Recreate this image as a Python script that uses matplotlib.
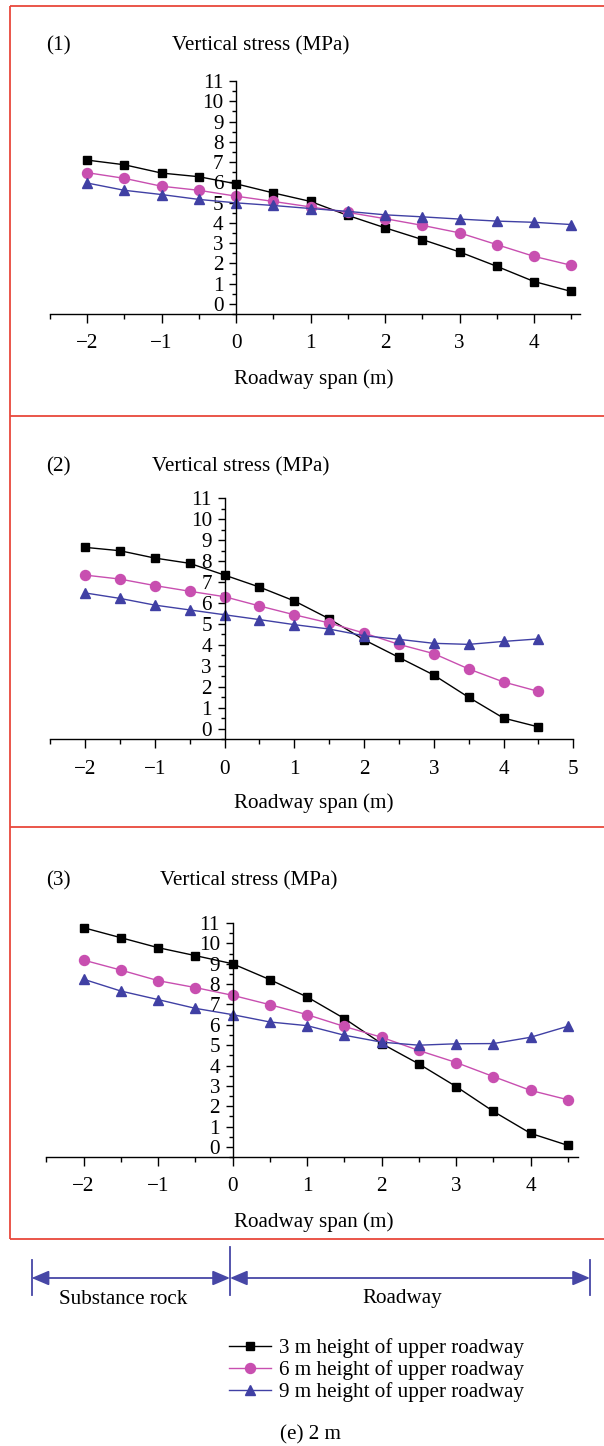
import matplotlib
matplotlib.use('Agg')
import matplotlib.pyplot as plt
from matplotlib.ticker import MultipleLocator

plt.rcParams['font.family'] = ['Liberation Serif', 'DejaVu Serif']

# ---------------- data ----------------
span = [-2, -1.5, -1, -0.5, 0, 0.5, 1, 1.5, 2, 2.5, 3, 3.5, 4, 4.5]

p1_3m = [7.10, 6.87, 6.46, 6.28, 5.93, 5.48, 5.06, 4.37, 3.76, 3.18, 2.57, 1.86, 1.11, 0.62]
p1_6m = [6.48, 6.20, 5.81, 5.61, 5.32, 5.06, 4.79, 4.52, 4.21, 3.88, 3.51, 2.93, 2.35, 1.91]
p1_9m = [5.97, 5.61, 5.40, 5.16, 4.99, 4.86, 4.71, 4.57, 4.40, 4.30, 4.19, 4.09, 4.03, 3.92]

p2_3m = [8.65, 8.49, 8.14, 7.89, 7.33, 6.76, 6.10, 5.25, 4.25, 3.41, 2.57, 1.51, 0.52, 0.10]
p2_6m = [7.33, 7.14, 6.83, 6.56, 6.30, 5.86, 5.44, 5.05, 4.57, 4.03, 3.59, 2.86, 2.24, 1.79]
p2_9m = [6.48, 6.22, 5.90, 5.67, 5.44, 5.21, 4.97, 4.76, 4.44, 4.27, 4.08, 4.03, 4.17, 4.29]

p3_3m = [10.77, 10.28, 9.79, 9.40, 9.00, 8.22, 7.37, 6.31, 5.08, 4.08, 2.97, 1.75, 0.67, 0.08]
p3_6m = [9.18, 8.69, 8.17, 7.83, 7.45, 6.99, 6.50, 5.92, 5.39, 4.74, 4.15, 3.46, 2.78, 2.32]
p3_9m = [8.24, 7.66, 7.24, 6.81, 6.50, 6.14, 5.96, 5.49, 5.15, 5.00, 5.07, 5.08, 5.39, 5.93]

series_labels = ['3 m height of upper roadway',
                 '6 m height of upper roadway',
                 '9 m height of upper roadway']
panel_tags = ['(1)', '(2)', '(3)']
ylabel_text = 'Vertical stress (MPa)'
xlabel_text = 'Roadway span (m)'
region_labels = ['Substance rock', 'Roadway']
caption = '(e) 2 m'

# ---------------- styles ----------------
W, H = 604, 1446
RED = '#e8483c'
BLACK = '#000000'
PINK = '#c84fb0'
BLUE = '#4040a4'
styles = [dict(color=BLACK, marker='s', ms=6.3, mfc=BLACK, mec=BLACK),
          dict(color=PINK, marker='o', ms=7.2, mfc=PINK, mec=PINK),
          dict(color=BLUE, marker='^', ms=7.2, mfc=BLUE, mec=BLUE)]
FS = 15.2
TFS = 15.2

fig = plt.figure(figsize=(W / 100, H / 100), dpi=100)

# overlay axes in pixel coordinates
ov = fig.add_axes([0, 0, 1, 1])
ov.set_xlim(0, W)
ov.set_ylim(H, 0)
ov.axis('off')


def px_axes(x0px, xpu, xlim, y0px, ypu, ylim):
    left = x0px + xlim[0] * xpu
    right = x0px + xlim[1] * xpu
    bot = y0px - ylim[0] * ypu
    top = y0px - ylim[1] * ypu
    return fig.add_axes([left / W, 1 - bot / H, (right - left) / W, (bot - top) / H])


panels = [
    dict(x0=236.0, xpu=74.5, xmax=4.62, y0=304.0, ypu=20.27, xtmax=4, ty=46, tcx=261, xly=379,
         data=(p1_3m, p1_6m, p1_9m)),
    dict(x0=224.5, xpu=69.75, xmax=5.0, y0=729.0, ypu=21.0, xtmax=5, ty=467, tcx=241, xly=803,
         data=(p2_3m, p2_6m, p2_9m)),
    dict(x0=232.6, xpu=74.5, xmax=4.63, y0=1147.0, ypu=20.36, xtmax=4, ty=881, tcx=249, xly=1222,
         data=(p3_3m, p3_6m, p3_9m)),
]

handles = []
for i, p in enumerate(panels):
    ax = px_axes(p['x0'], p['xpu'], (-2.5, p['xmax']), p['y0'], p['ypu'], (-0.5, 11))
    ax.set_xlim(-2.5, p['xmax'])
    ax.set_ylim(-0.5, 11)
    ax.patch.set_visible(False)
    for ys, st, lab in zip(p['data'], styles, series_labels):
        ln, = ax.plot(span, ys, lw=1.0, label=lab, **st)
        if i == 0:
            handles.append(ln)
    ax.spines['top'].set_visible(False)
    ax.spines['right'].set_visible(False)
    ax.spines['left'].set_position(('data', 0))
    for s in ('left', 'bottom'):
        ax.spines[s].set_linewidth(1.0)
    ax.set_xticks(list(range(-2, p['xtmax'] + 1)))
    ax.xaxis.set_minor_locator(MultipleLocator(0.5))
    ax.set_yticks(list(range(0, 12)))
    ax.yaxis.set_minor_locator(MultipleLocator(0.5))
    ax.tick_params(axis='x', which='major', direction='out', length=6.5, width=1.0,
                   pad=8, labelsize=TFS)
    ax.tick_params(axis='x', which='minor', direction='out', length=3.5, width=1.0)
    ax.tick_params(axis='y', which='major', direction='out', length=5.0, width=1.0,
                   pad=4.0, labelsize=TFS)
    ax.tick_params(axis='y', which='minor', direction='out', length=3.0, width=1.0)
    ax.set_ylim(-0.5, 11)
    ov.text(58, p['ty'], panel_tags[i], ha='center', va='center', fontsize=FS)
    ov.text(p['tcx'], p['ty'], ylabel_text, ha='center', va='center', fontsize=FS)
    ov.text(314, p['xly'], xlabel_text, ha='center', va='center', fontsize=FS)

# red panel frames
ov.plot([9.5, 9.5], [6, 1239], color=RED, lw=1.3, solid_capstyle='butt')
for yy in (6, 416, 827, 1239):
    ov.plot([9.5, W + 5], [yy, yy], color=RED, lw=1.3, solid_capstyle='butt')

# bracket for regions
BC = '#4747a6'
ov.plot([31.6, 31.6], [1260, 1295], color=BC, lw=1.3)
ov.plot([230, 230], [1247, 1295], color=BC, lw=1.3)
ov.plot([590, 590], [1260, 1295], color=BC, lw=1.3)
for xa, xb in ((31.6, 230), (230, 590)):
    ov.annotate('', xy=(xa, 1278), xytext=(xb, 1278),
                arrowprops=dict(arrowstyle='<|-|>,head_length=0.75,head_width=0.32',
                                color=BC, lw=1.3, shrinkA=0, shrinkB=0,
                                mutation_scale=14))
ov.text(123, 1299, region_labels[0], ha='center', va='center', fontsize=FS)
ov.text(402, 1299, region_labels[1], ha='center', va='center', fontsize=FS)

# legend
fig.legend(handles=handles, labels=series_labels, loc='upper left',
           bbox_to_anchor=(229 / W, 1 - 1338 / H), frameon=False, fontsize=FS,
           handlelength=2.0, handletextpad=0.38, labelspacing=0.11, borderpad=0,
           borderaxespad=0)

ov.text(310, 1435, caption, ha='center', va='center', fontsize=FS)

fig.savefig('out.png', dpi=100)
